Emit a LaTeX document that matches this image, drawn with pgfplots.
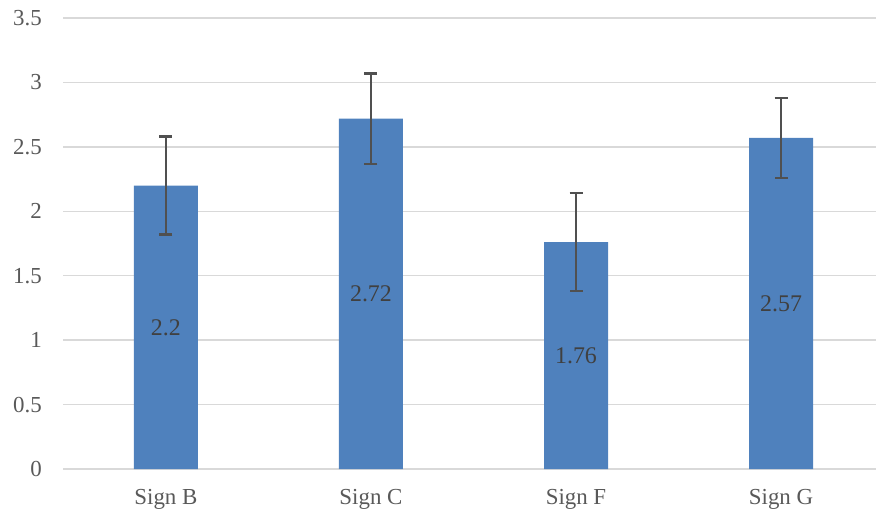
\documentclass[border=0pt]{standalone}
\usepackage{pgfplots}
\pgfplotsset{compat=1.18}
\usepackage{fontspec}
\setmainfont{Liberation Serif}
\definecolor{barblue}{HTML}{4F81BD}
\definecolor{gridgray}{HTML}{D9D9D9}
\definecolor{ticktext}{HTML}{595959}
\definecolor{errgray}{HTML}{505050}
\definecolor{labeltext}{HTML}{404040}
\begin{document}
\begin{tikzpicture}
\path[use as bounding box] (-63bp,-47bp) rectangle (813bp,469bp);
\begin{axis}[
  at={(0,0)}, anchor=south west,
  scale only axis,
  width=830bp, height=451bp,
  ymin=0, ymax=3.5,
  xmin=-0.502, xmax=3.546,
  ytick={0,0.5,...,3.5},
  yticklabels={0,0.5,1,1.5,2,2.5,3,3.5},
  xtick={0,1,2,3},
  xticklabels={Sign B,Sign C,Sign F,Sign G},
  ymajorgrids,
  grid style={gridgray, line width=1.5bp},
  axis line style={draw=none},
  tick style={draw=none},
  major tick length=0pt,
  clip=false,
  ticklabel style={font=\fontsize{23}{27}\selectfont, text=ticktext},
  yticklabel style={anchor=east, inner sep=0pt, xshift=-21bp},
  xticklabel style={anchor=north, inner sep=0pt, yshift=-20bp},
]
\addplot[ybar, bar width=64bp, fill=barblue, draw=none,
  error bars/.cd, y dir=both, y explicit,
  error bar style={errgray, line width=2.2bp},
  error mark options={rotate=90, mark size=6.5bp, line width=2.2bp, errgray}]
  coordinates {
    (0,2.20) +- (0,0.38)
    (1,2.72) +- (0,0.35)
    (2,1.76) +- (0,0.38)
    (3,2.57) +- (0,0.31)
  };
\addplot[draw=none, mark=none, nodes near coords, point meta=explicit symbolic,
  every node near coord/.append style={anchor=center, font=\fontsize{24}{28}\selectfont, text=labeltext}]
  coordinates {
    (0,1.10) [2.2]
    (1,1.36) [2.72]
    (2,0.88) [1.76]
    (3,1.285) [2.57]
  };
\end{axis}
\end{tikzpicture}
\end{document}
